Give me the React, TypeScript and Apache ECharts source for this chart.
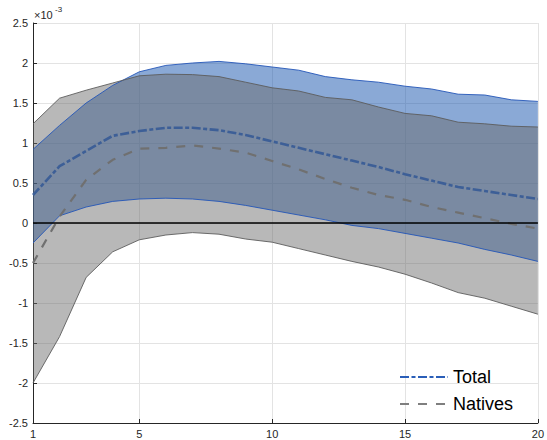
import React, { useEffect, useRef } from "react";
import * as echarts from "echarts";

const xValues = [1, 2, 3, 4, 5, 6, 7, 8, 9, 10, 11, 12, 13, 14, 15, 16, 17, 18, 19, 20];
const xLabelShown = [1, 5, 10, 15, 20];

const totalUpper = [0.92, 1.22, 1.5, 1.72, 1.89, 1.97, 2.0, 2.02, 1.99, 1.95, 1.91, 1.83, 1.79, 1.76, 1.71, 1.675, 1.61, 1.6, 1.54, 1.52];
const totalLower = [-0.25, 0.09, 0.2, 0.27, 0.3, 0.31, 0.3, 0.27, 0.22, 0.16, 0.1, 0.04, -0.03, -0.07, -0.13, -0.19, -0.25, -0.33, -0.4, -0.48];
const totalMean = [0.35, 0.71, 0.9, 1.09, 1.15, 1.19, 1.19, 1.16, 1.1, 1.02, 0.94, 0.86, 0.78, 0.7, 0.61, 0.53, 0.45, 0.4, 0.35, 0.3];

const nativesUpper = [1.24, 1.56, 1.66, 1.75, 1.84, 1.86, 1.855, 1.83, 1.76, 1.69, 1.65, 1.57, 1.54, 1.45, 1.37, 1.34, 1.26, 1.24, 1.21, 1.2];
const nativesLower = [-2.0, -1.42, -0.68, -0.36, -0.21, -0.15, -0.12, -0.14, -0.2, -0.24, -0.32, -0.4, -0.48, -0.55, -0.64, -0.75, -0.87, -0.94, -1.04, -1.14];
const nativesMean = [-0.5, 0.08, 0.54, 0.79, 0.93, 0.94, 0.97, 0.93, 0.88, 0.775, 0.67, 0.55, 0.44, 0.35, 0.29, 0.2, 0.13, 0.06, -0.01, -0.07];

const yTicks = { min: -2.5, max: 2.5, interval: 0.5 };
const exponentLabel = ["×10", "-3"];

const FONT = "'Liberation Sans', Arial, Helvetica, sans-serif";

export default function App() {
  const ref = useRef<HTMLDivElement>(null);

  useEffect(() => {
    if (!ref.current) return;
    const chart = echarts.init(ref.current, undefined, { renderer: "svg" });
    const showIdx = (idx: number) => xLabelShown.includes(xValues[idx]);
    const totalDiff = totalUpper.map((u, i) => +(u - totalLower[i]).toFixed(4));
    const nativesDiff = nativesUpper.map((u, i) => +(u - nativesLower[i]).toFixed(4));

    chart.setOption({
      animation: false,
      backgroundColor: "#ffffff",
      textStyle: { fontFamily: FONT },
      grid: { left: 33, right: 8, top: 23, bottom: 17, containLabel: false },
      xAxis: {
        type: "category",
        data: xValues.map(String),
        boundaryGap: false,
        axisLine: { show: true, onZero: false, lineStyle: { color: "#262626", width: 1 } },
        axisTick: { show: true, inside: true, length: 4, interval: (i: number) => showIdx(i), lineStyle: { color: "#262626" } },
        axisLabel: { interval: (i: number) => showIdx(i), color: "#262626", fontSize: 11, margin: 5, fontFamily: FONT },
        splitLine: { show: true, interval: (i: number) => showIdx(i), lineStyle: { color: "#e3e3e3", width: 1 } },
      },
      yAxis: {
        type: "value",
        min: yTicks.min,
        max: yTicks.max,
        interval: yTicks.interval,
        axisLine: { show: true, lineStyle: { color: "#262626", width: 1 } },
        axisTick: { show: true, inside: true, length: 4, lineStyle: { color: "#262626" } },
        axisLabel: { color: "#262626", fontSize: 11, margin: 5, fontFamily: FONT, formatter: (v: number) => String(v) },
        splitLine: { show: true, lineStyle: { color: "#e3e3e3", width: 1 } },
      },
      legend: {
        show: true,
        orient: "vertical",
        left: 394,
        top: 362,
        itemWidth: 48,
        itemHeight: 14,
        itemGap: 7,
        itemStyle: { opacity: 0 },
        textStyle: { fontSize: 18, color: "#000", fontFamily: FONT, lineHeight: 20 },
        data: [
          { name: "Total", lineStyle: { color: "#2a5eb8" } },
          { name: "Natives", lineStyle: { color: "#7f7f7f" } },
        ],
      },
      graphic: [
        { type: "text", left: 34, top: 9, style: { text: exponentLabel[0], fontSize: 11, fill: "#262626", fontFamily: FONT } },
        { type: "text", left: 55, top: 5, style: { text: exponentLabel[1], fontSize: 8, fill: "#262626", fontFamily: FONT } },
      ],
      series: [
        {
          name: "tLow",
          type: "line",
          data: totalLower,
          stack: "tb",
          stackStrategy: "all",
          symbol: "none",
          lineStyle: { color: "#2456b8", width: 0.9 },
          silent: true,
        },
        {
          name: "tBand",
          type: "line",
          data: totalDiff,
          stack: "tb",
          stackStrategy: "all",
          symbol: "none",
          lineStyle: { color: "#2456b8", width: 0.9 },
          areaStyle: { color: "rgb(21,83,173)", opacity: 0.5 },
          silent: true,
        },
        {
          name: "Total",
          type: "line",
          data: totalMean,
          symbol: "none",
          color: "#3d5f97",
          lineStyle: { color: "#3d5f97", width: 2.6, type: [9, 2.5, 4, 2.5] },
        },
        {
          name: "Natives",
          type: "line",
          data: nativesMean,
          symbol: "none",
          color: "#707070",
          lineStyle: { color: "#707070", width: 2.2, type: [9, 9] },
        },
        {
          name: "nLow",
          type: "line",
          data: nativesLower,
          stack: "nb",
          stackStrategy: "all",
          symbol: "none",
          lineStyle: { color: "#5c5c5c", width: 0.9 },
          silent: true,
        },
        {
          name: "nBand",
          type: "line",
          data: nativesDiff,
          stack: "nb",
          stackStrategy: "all",
          symbol: "none",
          lineStyle: { color: "#5c5c5c", width: 0.9 },
          areaStyle: { color: "rgb(104,104,104)", opacity: 0.47 },
          silent: true,
          markLine: {
            silent: true,
            symbol: ["none", "none"],
            label: { show: false },
            lineStyle: { color: "#000000", width: 1.6, type: "solid" },
            data: [{ yAxis: 0 }],
          },
        },
      ],
    });
    return () => chart.dispose();
  }, []);

  return (
    <div
      ref={ref}
      style={{ position: "fixed", left: 0, top: 0, width: 547, height: 440, background: "#fff" }}
    />
  );
}
